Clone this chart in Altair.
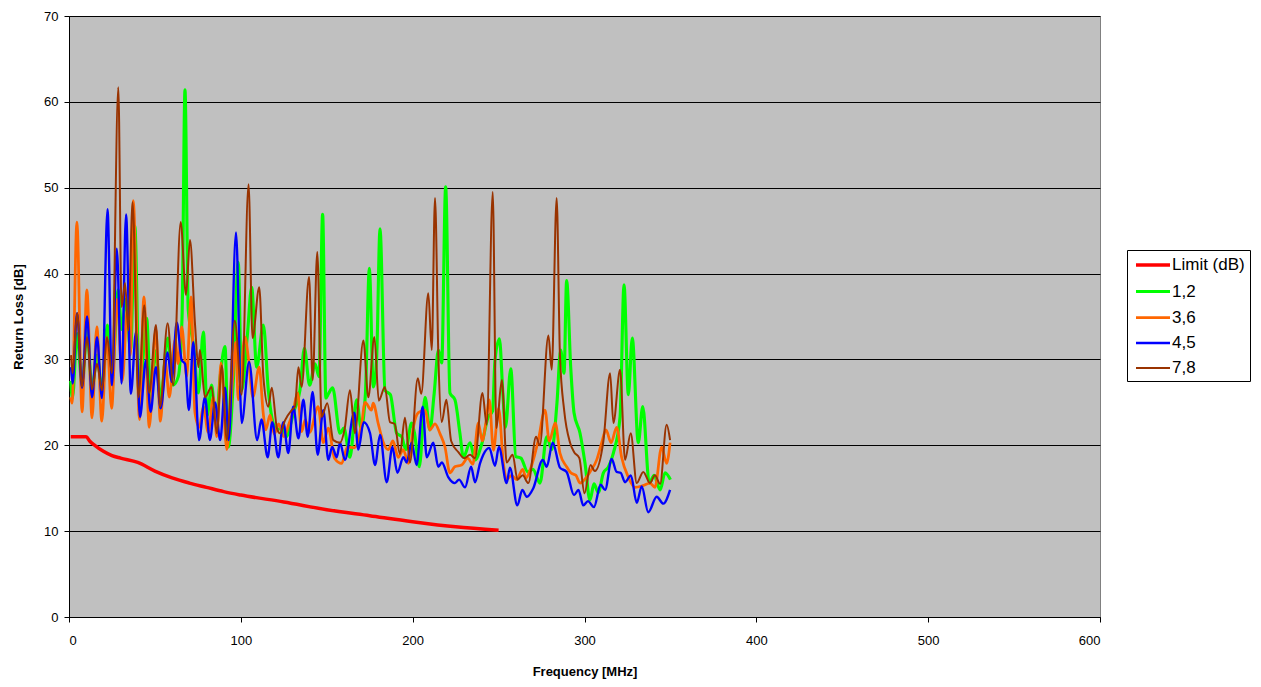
import altair as alt
import pandas as pd

series_names = ["Limit (dB)", "1,2", "3,6", "4,5", "7,8"]
series_colors = ["#FF0000", "#00FF00", "#FF6600", "#0000FF", "#993300"]
series_widths = [3.5, 2, 2, 2, 2]

limit_f = [1, 10, 12, 15, 20, 25, 30, 40, 50, 60, 70, 80, 90, 100, 125, 150, 175, 200, 225, 250]
limit_v = [21, 21, 20.5, 20, 19.3, 18.8, 18.5, 18, 17, 16.2, 15.6, 15.1, 14.6, 14.2, 13.4, 12.5, 11.8, 11.1, 10.5, 10.1]

g_f = [1, 2, 4.7, 7.6, 10.5, 13.4, 16.3, 19.2, 22.3, 25, 28.7, 30.6, 33.2, 35.8, 38.3, 41, 45.2, 47.5, 50.6, 53.3,
       57.5, 60.5, 63.6, 65.8, 67.5, 69.4, 72.3, 75.3, 78.2, 80.5, 83, 85.5, 88, 90.8, 92.7, 95.5, 98.5, 100.5, 103.8, 106.3,
       109.2, 113.1, 116, 118, 120.8, 123.8, 126.7, 129, 131, 134.4, 137, 140, 143.2, 145.5, 147.6, 149.5, 151, 153.4, 157.7, 160,
       163.5, 167.4, 170, 172.5, 174.8, 177.1, 179, 181, 183.9, 187, 190.7, 193.6, 196, 199.4, 201, 203.9, 207.2, 210, 212.5, 215,
       216.9, 219.2, 221.7, 224.6, 227.5, 229.5, 233.4, 236.3, 240, 244, 246.5, 247.9, 250.5, 252.5, 254, 257.1, 260, 263, 267, 270,
       274.1, 278, 281, 284, 286.1, 288.1, 289.6, 292, 293.9, 297.4, 300.3, 303.2, 305.5, 308, 311, 314, 316.8, 320.7, 323, 325.5,
       327.8, 331.3, 333.9, 337.7, 340.5, 344, 346.9, 350]
g_v = [27.5, 25.5, 33, 27, 33.5, 26.5, 30.5, 26.5, 34, 28, 38.1, 33.5, 37, 31, 45.5, 25.5, 34.8, 25.5, 31, 25.5,
       32.5, 27, 28, 35, 61.4, 35.8, 31.9, 26.1, 33.2, 23.5, 27, 22.5, 28, 31.5, 19.8, 27, 41.3, 26.4, 32.8, 38.4,
       29.1, 34, 26.4, 23.3, 21.8, 22, 21, 22.5, 24, 26.4, 31.3, 27, 29.5, 28, 46.9, 25.5, 26, 26.7, 21.4, 22,
       18.6, 25.3, 22, 26, 40.6, 26.8, 30, 45.2, 26.4, 25.9, 21.4, 21, 19.5, 22.6, 21.5, 17.5, 25.6, 21.8, 26, 31.1,
       29.6, 50.1, 26.1, 25.3, 21.4, 18.6, 20.3, 18.3, 20, 23.3, 24, 29.9, 32.4, 26, 22.1, 28.9, 18.7, 18.5, 16.9, 17.2,
       15.6, 21, 19.5, 25, 31.1, 28.4, 39.2, 29, 23.8, 21.4, 17.9, 13.6, 15.5, 14.5, 16.8, 17.5, 19.1, 23.3, 38.7, 25.9,
       32.5, 20.3, 24.5, 15.6, 16.5, 14.8, 16.8, 16]

o_f = [1, 1.8, 4.6, 7.6, 10.4, 13.4, 16.2, 19.1, 22, 24.8, 28, 31, 34, 35.7, 37.4, 41, 43.6, 46.7, 50.5, 53.2,
       55.9, 58.4, 61.7, 63.5, 65.6, 68.5, 71, 73.3, 75.8, 78.2, 81, 84, 86, 88.5, 91.8, 95.2, 97, 98.5, 102.4, 104.5,
       107, 110.7, 113, 114.5, 117, 119.5, 122, 125, 128, 130.5, 133, 135.4, 137.5, 140, 145, 148, 150.9, 154.5, 158.7, 162,
       166, 170.3, 172.3, 176, 177, 180, 183, 185.8, 188.5, 191.6, 194.5, 197.5, 200.4, 203.3, 207.2, 210, 213, 216, 218.8, 221.7,
       224.5, 228.5, 232, 235, 238.2, 240.5, 242.5, 244.6, 247, 250, 252.8, 254.7, 257.5, 260.5, 264, 266, 268.3, 270.5, 273.1, 277,
       279.5, 283, 285.7, 289.6, 292, 295, 297.4, 300, 303.2, 307.1, 310, 312.5, 315.5, 318.7, 321.6, 325.5, 329.4, 334, 338.1, 341,
       344.9, 347.8, 349.8]
o_v = [25.6, 24.9, 46, 23.9, 38.1, 23.2, 33.8, 22.8, 32.6, 24.3, 37, 27.5, 36, 30.5, 48.5, 23, 37.3, 22.1, 33.5, 22.8,
       29.9, 25.6, 32.3, 29.5, 33.8, 28, 37.3, 23.8, 22.1, 24.5, 21.5, 25.6, 21, 29.6, 19.5, 27.6, 32, 25.3, 32.6, 30,
       25.6, 29.1, 23.8, 21.8, 23.5, 21.3, 22.5, 21, 22.5, 24, 26.1, 21.6, 23, 21.5, 24.5, 20.3, 22, 18.5, 17.9, 19.8,
       19.7, 22.5, 25, 24.1, 24.9, 22.5, 20.3, 19.5, 20.5, 18.6, 19.5, 17.9, 22.1, 23.8, 24.1, 21.8, 22.5, 21.3, 19.8, 16.8,
       17.5, 17.7, 18.5, 17.8, 22.6, 20.5, 22.5, 25.3, 19.4, 24.3, 17.9, 16, 16.5, 16, 17.2, 16.2, 17.1, 18.5, 20.6, 24.1,
       20.5, 22.6, 19.1, 17.5, 16.8, 16.5, 15.6, 16, 16.9, 18.3, 20.3, 21.8, 20.3, 22.1, 18.6, 16.3, 15.1, 15.3, 15.6, 15.1,
       19.8, 17.9, 20.3]

b_f = [1.2, 2.1, 4.7, 7.6, 10.5, 13.4, 16.3, 19.2, 22.4, 25, 27.8, 30.6, 33.2, 36, 39, 41.3, 44.8, 47.5, 50.6, 53.3,
       57.4, 59.7, 62.7, 65.6, 67.5, 69.8, 72.3, 75.7, 79.1, 82, 85, 88, 90.8, 93, 97.2, 100.5, 104.8, 109.5, 112, 115.6,
       118.3, 121.8, 124.7, 127.6, 130.5, 133.5, 136.4, 138.9, 141.8, 144.7, 148, 150.9, 153.2, 155.8, 157.7, 160.6, 166, 168.4, 171.5, 175.2,
       178.1, 181, 184.9, 188.2, 191.1, 194.6, 196.5, 199.4, 202.3, 205.8, 208.2, 212, 214.9, 217, 220.7, 224.6, 227, 230.5, 234, 236.3,
       239.2, 241.1, 244.6, 247.9, 250.2, 254.7, 256.6, 260.9, 263.8, 266.4, 270.2, 275.7, 278, 281.5, 285.7, 289.6, 293.9, 296.5, 299.3, 302,
       305.5, 309.4, 312, 315.8, 318.7, 321, 323.6, 327, 330.4, 333.3, 337.1, 342, 345.9, 349.8]
b_v = [29.1, 27.2, 35.4, 26.7, 35, 25.6, 32.6, 25.5, 47.5, 27, 42.9, 27.2, 46.9, 26, 33.2, 23.3, 29.9, 23.9, 29.1, 24.3,
       30.8, 27.4, 34.3, 29.9, 29.5, 24.1, 32, 20.6, 25.6, 20.6, 25, 20.6, 26.7, 20.6, 44.8, 22.6, 29.7, 20.6, 23, 18.6,
       22.7, 18.6, 22.7, 19.1, 24.5, 20.8, 25.3, 21, 26.2, 18.9, 24.1, 18.3, 19.8, 18.6, 20.3, 18.3, 23.8, 19.5, 22.7, 21.4,
       17.7, 21.2, 15.7, 19.8, 16.8, 18.6, 18, 20.3, 17.7, 24.5, 18.6, 20.3, 17.5, 18, 16.3, 15.6, 16, 15.1, 17.5, 15.7,
       17.9, 18.9, 19.7, 17.6, 19.8, 15.6, 17.4, 13, 14.8, 14, 15, 18.3, 17.5, 20.3, 17.4, 16.9, 14.2, 14.8, 13, 13.5,
       12.8, 15.4, 14.8, 18.4, 16.9, 16.8, 15.7, 16.5, 13.3, 15.2, 12.2, 14, 13.2, 14.8]

r_f = [1.2, 2.1, 4.7, 7.6, 10.5, 13.4, 16.3, 19.2, 22.1, 25, 28.7, 30.6, 32.6, 34.5, 37, 40.4, 43.8, 46.7, 50.6, 53,
       57.4, 60.7, 65, 68.1, 70.4, 73.3, 75.3, 76.2, 79.1, 83, 86, 88.9, 91.8, 96.5, 100.5, 104.5, 106.8, 110.7, 113.1, 116,
       118, 121, 122.8, 125.7, 129.6, 131.5, 133.5, 135.4, 139.7, 141.8, 144.5, 147, 150.3, 153.8, 157.7, 160.5, 163.5, 166.4, 171.3, 174.2,
       177.7, 180.3, 183.8, 186.8, 189.5, 192.6, 195.5, 198.4, 203, 205, 209.1, 211.1, 213, 215, 216.9, 219.6, 222.4, 226.6, 230, 233.4,
       236.3, 240.6, 243.1, 246.6, 248.7, 251.9, 254.7, 258.2, 261, 264, 267.3, 271.8, 274, 279, 280.9, 283.8, 285.7, 288.2, 291.6, 294,
       297, 300, 303.5, 306, 311, 314.9, 316.8, 320.7, 323.6, 326.9, 330.4, 334.2, 338.1, 341, 344, 347.8, 349.8]
r_v = [30.5, 28.4, 35.4, 26.8, 32.6, 26.5, 29.5, 26.4, 32.6, 28.4, 61.7, 36.1, 38.9, 33.4, 48.3, 25.6, 36.3, 26.1, 34, 24.5,
       34.2, 27, 46, 37.5, 43.9, 34.2, 29.1, 31.1, 25.6, 26.8, 21.4, 29.3, 20.6, 34.5, 25.9, 50.4, 32.5, 38.4, 28, 24.5,
       26.7, 22, 21.4, 22.9, 24.1, 24.5, 29.1, 26.8, 39.6, 27.6, 42.5, 23.3, 24.9, 20.6, 20.3, 22, 26.4, 21.4, 32.2, 25.6,
       32.6, 25.2, 26.8, 22.7, 22.5, 19, 23.2, 18, 27.8, 26, 37.7, 31.1, 48.8, 30, 22.7, 25.3, 20.5, 19.2, 18.5, 18.9,
       18.5, 26.1, 22.4, 49.5, 22, 27.6, 18, 18.9, 16, 16.5, 15.6, 21, 20, 32.8, 28.8, 48.8, 30.5, 24, 20.3, 19.2,
       18.5, 14.4, 17.7, 17, 20.5, 28.4, 22.6, 28.8, 18.3, 21.4, 15.6, 16.9, 15.6, 16.5, 15.5, 22.4, 20.6]

rows = []
for name, fs, vs in [("Limit (dB)", limit_f, limit_v), ("1,2", g_f, g_v), ("3,6", o_f, o_v),
                     ("4,5", b_f, b_v), ("7,8", r_f, r_v)]:
    for i, (f, v) in enumerate(zip(fs, vs)):
        rows.append({"series": name, "freq": f, "rl": v, "idx": i})
df = pd.DataFrame(rows)

font = "Liberation Sans"

chart = alt.Chart(df).mark_line(interpolate="monotone").encode(
    x=alt.X("freq:Q", scale=alt.Scale(domain=[0, 600], nice=False),
            axis=alt.Axis(values=[0, 100, 200, 300, 400, 500, 600], title="Frequency [MHz]",
                          grid=False, tickSize=5, tickColor="black", domainColor="black",
                          labelFontSize=13, titleFontSize=13, titleFontWeight="bold",
                          labelPadding=12, titlePadding=18, labelColor="black", titleColor="black")),
    y=alt.Y("rl:Q", scale=alt.Scale(domain=[0, 70], nice=False),
            axis=alt.Axis(values=[0, 10, 20, 30, 40, 50, 60, 70], title="Return Loss [dB]",
                          grid=True, gridColor="black", gridWidth=1, gridOpacity=1,
                          tickSize=5, tickColor="black", domainColor="black",
                          labelFontSize=13, titleFontSize=13, titleFontWeight="bold",
                          labelPadding=6, titlePadding=18, labelColor="black", titleColor="black")),
    color=alt.Color("series:N", sort=series_names,
                    scale=alt.Scale(domain=series_names, range=series_colors),
                    legend=alt.Legend(title=None, orient="none", legendX=1058, legendY=234,
                                      symbolType="M-2,0H2", symbolSize=289, symbolStrokeWidth=2,
                                      symbolOffset=11,
                                      labelFontSize=17, labelFont=font, labelColor="black",
                                      strokeColor="black", fillColor="white", padding=4.5,
                                      rowPadding=7.5, labelOffset=8.5)),
    strokeWidth=alt.StrokeWidth("series:N", sort=series_names,
                                scale=alt.Scale(domain=series_names, range=series_widths),
                                legend=None),
    order="idx:Q",
).properties(
    width=1031, height=601,
    background="white",
    padding={"left": 61, "top": 8, "right": 152, "bottom": 62},
    autosize=alt.AutoSizeParams(type="none"),
).configure_view(
    fill="#C0C0C0", stroke="#808080", strokeWidth=1
).configure_axis(
    labelFont=font, titleFont=font
)

chart.save("out.html", embed_options={"renderer": "svg", "actions": False})
